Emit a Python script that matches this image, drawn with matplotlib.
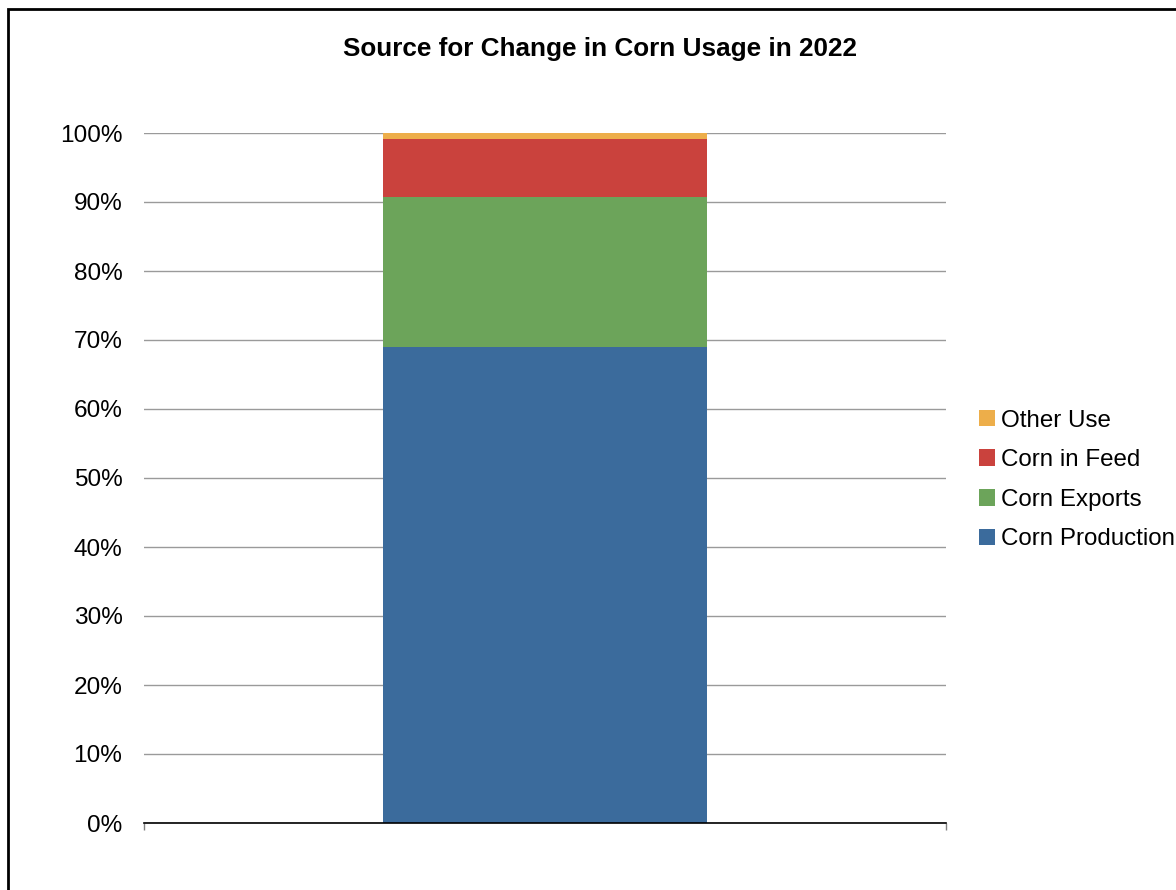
import matplotlib
matplotlib.use("Agg")
import matplotlib.pyplot as plt
from matplotlib.patches import Rectangle, Patch

plt.rcParams['font.family'] = ['Liberation Sans', 'DejaVu Sans']

categories = ["2022"]
series_names = ["Corn Production", "Corn Exports", "Corn in Feed", "Other Use"]
series_values = [69.0, 21.7, 8.4, 0.9]
series_colors = ["#3B6B9C", "#6CA45A", "#CA423D", "#EDAE4A"]
yticks = [0, 10, 20, 30, 40, 50, 60, 70, 80, 90, 100]
ytick_labels = [f"{v}%" for v in yticks]
title = "Source for Change in Corn Usage in 2022"

fig = plt.figure(figsize=(11.76, 8.90), dpi=100)
ax = fig.add_axes([144/1176, 1-823/890, (946-144)/1176, (823-133)/890])

bottom = 0.0
for name, val, col in zip(series_names, series_values, series_colors):
    ax.bar(0, val, width=0.403, bottom=bottom, color=col, label=name, zorder=3)
    bottom += val

ax.set_xlim(-0.5, 0.5)
ax.set_ylim(0, 100)
ax.set_yticks(yticks)
ax.set_yticklabels(ytick_labels, fontsize=17.6)
ax.tick_params(axis='y', length=0, pad=15.5)
ax.set_xticks([-0.5, 0.5])
ax.set_xticklabels(["", ""])
ax.tick_params(axis='x', length=5, color='#808080', width=1)
ax.yaxis.grid(True, color='#9a9a9a', linewidth=1, zorder=0)
for s in ['left', 'right', 'top']:
    ax.spines[s].set_visible(False)
ax.spines['bottom'].set_color('black')
ax.spines['bottom'].set_linewidth(1.2)
ax.spines['bottom'].set_zorder(4)

fig.text(600/1176, 1-49/890, title, ha='center', va='center', fontsize=18.8, fontweight='bold')

handles = [Patch(facecolor=c, label=n) for n, c in zip(series_names, series_colors)][::-1]
fig.legend(handles=handles, loc='center left', bbox_to_anchor=(979/1176, 1-480/890),
           frameon=False, fontsize=17.4, handlelength=0.67, handleheight=0.67,
           handletextpad=0.25, labelspacing=0.73, borderaxespad=0, borderpad=0)

# figure border (left and top visible)
fig.add_artist(Rectangle((8/1176, -0.1), 1.2, 1-9/890+0.1, transform=fig.transFigure,
                         fill=False, edgecolor='black', linewidth=2))

fig.savefig("out.png", dpi=100)
